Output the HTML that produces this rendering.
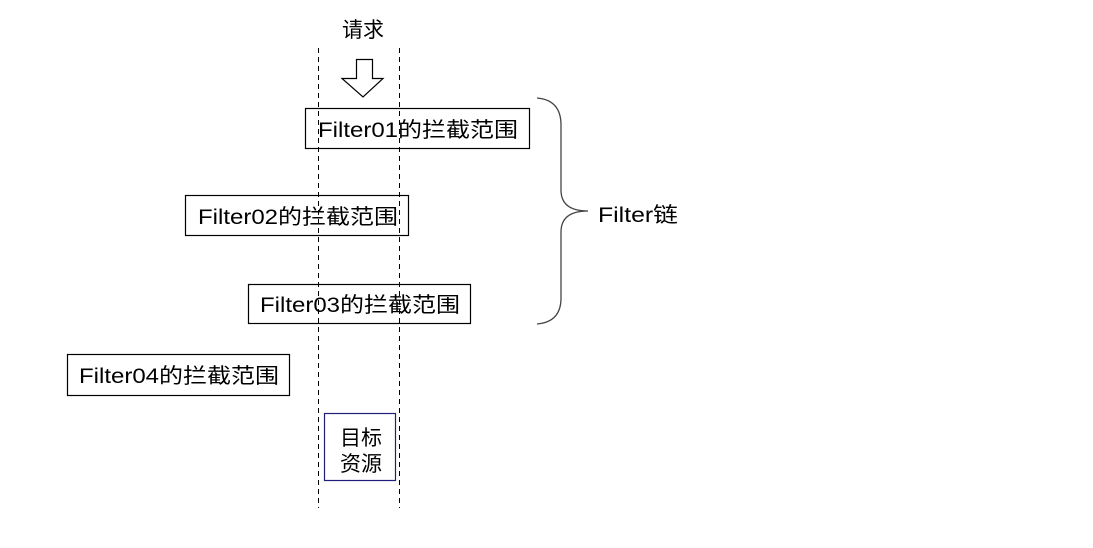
<!DOCTYPE html>
<html><head><meta charset="utf-8"><style>body{margin:0;background:#fff}svg{display:block}</style></head>
<body>
<svg width="1093" height="548" xmlns="http://www.w3.org/2000/svg" font-family="Liberation Sans, Noto Sans CJK SC, sans-serif" font-size="21" fill="#000">
<rect width="1093" height="548" fill="#fff"/>
<text x="363" y="37" text-anchor="middle">请求</text>
<path d="M356.5 59.5 H372.5 V78.5 H383 L363 97 L342 78.5 H356.5 Z" fill="#fff" stroke="#000" stroke-width="1.2"/>
<line x1="318.5" y1="48" x2="318.5" y2="508" stroke="#000" stroke-dasharray="5,4"/>
<line x1="399.5" y1="48" x2="399.5" y2="508" stroke="#000" stroke-dasharray="5,4"/>
<g fill="none" stroke="#000" stroke-width="1.2">
<rect x="305.5" y="108.5" width="224" height="40"/>
<rect x="185.5" y="195.5" width="223" height="40"/>
<rect x="248.5" y="284.5" width="222" height="39"/>
<rect x="67.5" y="354.5" width="222" height="41"/>
</g>
<rect x="324.5" y="413.5" width="71" height="67" fill="none" stroke="#1f1f7a" stroke-width="1.2"/>
<text x="318" y="137" textLength="200" lengthAdjust="spacingAndGlyphs">Filter01的拦截范围</text>
<text x="198" y="224" textLength="200" lengthAdjust="spacingAndGlyphs">Filter02的拦截范围</text>
<text x="260" y="312" textLength="200" lengthAdjust="spacingAndGlyphs">Filter03的拦截范围</text>
<text x="79" y="383" textLength="200" lengthAdjust="spacingAndGlyphs">Filter04的拦截范围</text>
<text x="361" y="445" text-anchor="middle">目标</text>
<text x="361" y="471" text-anchor="middle">资源</text>
<path d="M537 98 Q561 100 561 125 V190 Q561 211 588 211 Q561 211 561 232 V298 Q561 322 537 324" fill="none" stroke="#444" stroke-width="1.3"/>
<text x="598" y="222" textLength="80" lengthAdjust="spacingAndGlyphs">Filter链</text>
</svg>
</body></html>
